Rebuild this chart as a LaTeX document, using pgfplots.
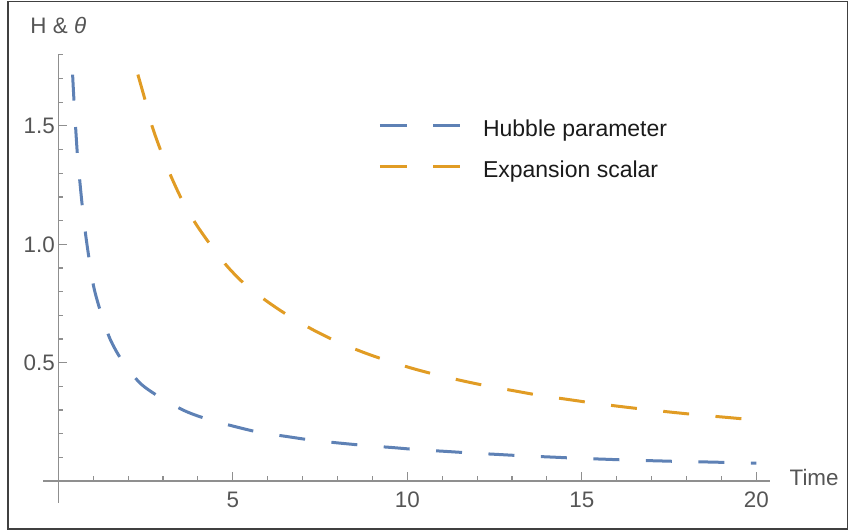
\documentclass[border=0pt]{standalone}
\usepackage{fontspec}
\setmainfont{Liberation Sans}
\usepackage{pgfplots}
\pgfplotsset{compat=1.18}
\definecolor{mblue}{HTML}{5E81B5}
\definecolor{morange}{HTML}{E19C24}
\definecolor{axisgray}{HTML}{8F8F8F}
\definecolor{ticklab}{HTML}{555555}
\definecolor{legtext}{HTML}{1A1A1A}
\definecolor{framecol}{HTML}{404040}
\newcommand{\bigf}{\fontsize{22.4bp}{26bp}\selectfont}
\newcommand{\legf}{\fontsize{23bp}{27bp}\selectfont}
\begin{document}
\begin{tikzpicture}
\useasboundingbox (0bp,0bp) rectangle (849bp,531bp);
\draw[framecol, line width=1.5bp] (8bp,2bp) rectangle (847.5bp,529.5bp);
\begin{axis}[
  at={(58.3bp,50bp)}, anchor=origin,
  x=34.9bp, y=236.7bp,
  xmin=-0.43, xmax=20.39, ymin=-0.092, ymax=1.8,
  axis lines=middle,
  axis line style={draw=axisgray, line width=1.2bp, -},
  clip=false,
  xtick={5,10,15,20}, ytick={0.5,1,1.5},
  minor xtick={1,2,3,4,6,7,8,9,11,12,13,14,16,17,18,19},
  minor ytick={0.1,0.2,0.3,0.4,0.6,0.7,0.8,0.9,1.1,1.2,1.3,1.4,1.6,1.7,1.8},
  tick align=inside,
  major tick length=8.5bp, minor tick length=5bp,
  every tick/.style={draw=axisgray, line width=1.1bp},
  /pgf/number format/assume math mode=true,
  yticklabel style={/pgf/number format/.cd, fixed, fixed zerofill, precision=1},
  xticklabel style={yshift=-7.5bp},
  every tick label/.append style={font=\bigf, text=ticklab},
  legend style={at={(axis cs:9.17,1.527)}, anchor=north west, draw=none, fill=none,
    font=\legf, text=legtext, inner sep=0pt, outer sep=0pt, row sep=23.5bp, column sep=21.7bp,
    nodes={inner sep=0pt}},
  legend cell align=left,
  legend image code/.code={\draw[#1, dash pattern=on 26.7bp off 26.7bp] (0bp,3.5bp) -- (80bp,3.5bp);},
]
\addplot[mblue, line width=3bp, dash pattern=on 26bp off 26.5bp, smooth, tension=0.5] coordinates {
(0.41,1.717) (0.45,1.606) (0.545,1.383) (0.62,1.261) (0.69,1.158) (0.785,1.039)
(0.89,0.931) (1.02,0.817) (1.21,0.716) (1.48,0.601) (1.83,0.508) (2.34,0.414)
(2.91,0.354) (3.63,0.296) (4.30,0.260) (5.06,0.230) (5.78,0.205) (6.59,0.187)
(7.29,0.172) (8.07,0.160) (8.80,0.150) (9.60,0.141) (10.33,0.132) (11.11,0.125)
(11.86,0.118) (12.62,0.112) (13.36,0.106) (14.15,0.101) (14.88,0.096) (15.66,0.092)
(16.41,0.088) (17.18,0.085) (17.93,0.082) (18.70,0.080) (19.45,0.077) (20.0,0.075)
};
\addlegendentry{Hubble parameter}
\addplot[morange, line width=3bp, dash pattern=on 26bp off 26.5bp, smooth, tension=0.5] coordinates {
(2.28,1.717) (2.49,1.608) (2.69,1.498) (2.95,1.390) (3.23,1.287) (3.55,1.186)
(3.93,1.089) (4.35,1.000) (4.84,0.907) (5.37,0.828) (5.99,0.758) (6.61,0.697)
(7.27,0.641) (7.94,0.592) (8.68,0.547) (9.37,0.511) (10.14,0.476) (10.83,0.449)
(11.62,0.422) (12.31,0.401) (13.10,0.380) (13.82,0.361) (14.58,0.345) (15.34,0.329)
(16.09,0.315) (16.85,0.302) (17.61,0.290) (18.36,0.279) (19.13,0.269) (19.89,0.259)
(20.0,0.258)
};
\addlegendentry{Expansion scalar}
\node[font=\bigf, text=ticklab, anchor=base, inner sep=0pt] at (axis cs:0,1.891) {H \& \textit{θ}};
\node[font=\bigf, text=ticklab, anchor=base west, inner sep=0pt] at (axis cs:20.95,-0.021) {Time};
\end{axis}
\end{tikzpicture}
\end{document}
